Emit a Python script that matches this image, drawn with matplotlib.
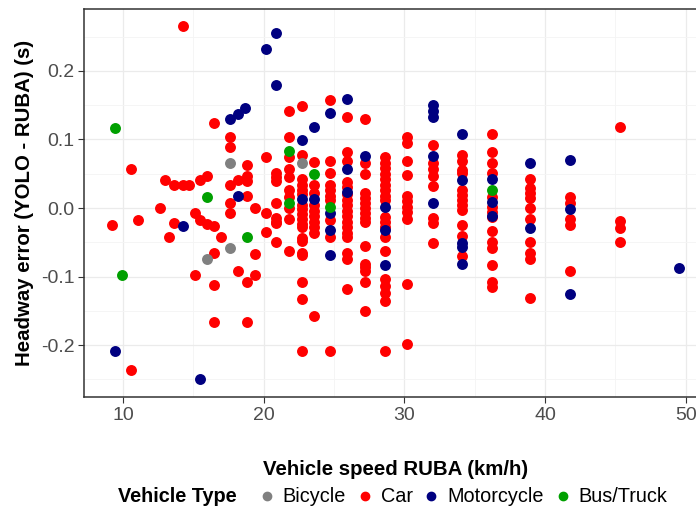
import matplotlib
matplotlib.use("Agg")
import matplotlib.pyplot as plt
from matplotlib.lines import Line2D

plt.rcParams['font.family'] = ['Liberation Sans', 'DejaVu Sans']

# car points, grouped by speed column: (speed, [errors])
car_columns = [
    (9.2, [-0.025]),
    (10.6, [0.057, -0.237]),
    (11.1, [-0.018]),
    (12.6, [0.0]),
    (13.0, [0.041]),
    (13.3, [-0.042]),
    (13.6, [0.034, -0.022]),
    (14.3, [0.266, 0.034]),
    (14.7, [0.034]),
    (15.1, [-0.008, -0.098]),
    (15.5, [0.041, -0.018]),
    (16.0, [0.047, -0.023]),
    (16.5, [0.124, -0.027, -0.066, -0.112, -0.166]),
    (17.0, [-0.042]),
    (17.6, [0.103, 0.089, 0.034, 0.007, -0.007]),
    (18.2, [0.041, -0.092]),
    (18.8, [0.063, 0.047, 0.039, 0.018, -0.108, -0.166]),
    (19.4, [0.0, -0.067, -0.098]),
    (20.2, [0.075, -0.008, -0.035]),
    (20.9, [0.051, 0.045, 0.039, 0.007, -0.015, -0.020, -0.022, -0.050]),
    (21.8, [0.142, 0.104, 0.074, 0.057, 0.045, 0.026, 0.016, 0.0, -0.016, -0.063]),
    (22.7, [0.149, 0.077, 0.042, 0.034, 0.027, 0.020, 0.005, -0.002, -0.009, -0.016,
            -0.023, -0.028, -0.044, -0.048, -0.066, -0.069, -0.108, -0.133, -0.209]),
    (23.6, [0.067, 0.034, 0.022, 0.004, -0.004, -0.012, -0.020, -0.028, -0.036, -0.158]),
    (24.7, [0.158, 0.069, 0.051, 0.034, 0.026, 0.018, 0.012, -0.018, -0.042, -0.209]),
    (25.9, [0.133, 0.082, 0.069, 0.038, 0.030, 0.020, 0.012, 0.004, -0.004, -0.012,
            -0.020, -0.028, -0.036, -0.042, -0.066, -0.074, -0.118]),
    (27.2, [0.130, 0.066, 0.050, 0.022, 0.015, 0.007, 0.0, -0.007, -0.014, -0.020,
            -0.055, -0.082, -0.086, -0.092, -0.108, -0.150]),
    (28.6, [0.074, 0.066, 0.058, 0.050, 0.042, 0.034, 0.026, 0.018, 0.012, -0.013,
            -0.020, -0.028, -0.042, -0.063, -0.104, -0.114, -0.124, -0.136, -0.209]),
    (30.2, [0.104, 0.095, 0.069, 0.048, 0.018, 0.010, 0.002, -0.006, -0.016, -0.111, -0.199]),
    (32.0, [0.092, 0.066, 0.057, 0.047, 0.032, -0.015, -0.022, -0.051]),
    (34.1, [0.077, 0.069, 0.055, 0.051, 0.026, 0.019, 0.012, 0.004, -0.003, -0.025,
            -0.041, -0.070]),
    (36.2, [0.108, 0.082, 0.066, 0.051, 0.016, 0.001, -0.006, -0.013, -0.034, -0.050,
            -0.058, -0.083, -0.108, -0.115]),
    (38.9, [0.042, 0.029, 0.022, 0.015, 0.0, -0.016, -0.050, -0.066, -0.074, -0.131]),
    (41.8, [0.016, 0.007, -0.016, -0.025, -0.092]),
    (45.3, [0.118, -0.019, -0.029, -0.050]),
]

moto_speed = [9.4, 14.3, 15.5, 17.6, 18.2, 18.7, 18.2, 20.2, 20.9, 20.9, 22.7, 22.7,
              23.6, 23.6, 24.7, 24.7, 24.7, 24.7, 25.9, 25.9, 25.9, 27.2, 28.6, 28.6,
              28.6, 32.0, 32.0, 32.0, 32.0, 32.0, 34.1, 34.1, 34.1, 34.1, 34.1, 36.2,
              36.2, 36.2, 38.9, 38.9, 41.8, 41.8, 41.8, 49.5]
moto_err = [-0.209, -0.027, -0.250, 0.130, 0.137, 0.146, 0.018, 0.232, 0.256, 0.180, 0.099, 0.013,
            0.118, 0.013, 0.138, -0.007, -0.032, -0.069, 0.159, 0.057, 0.024, 0.076, 0.001, -0.032,
            -0.083, 0.150, 0.142, 0.133, 0.076, 0.007, 0.108, 0.041, -0.051, -0.057, -0.082, 0.042,
            0.009, -0.012, 0.066, -0.029, 0.070, -0.001, -0.126, -0.088]

bus_speed = [9.4, 9.9, 16.0, 18.8, 21.8, 21.8, 23.6, 24.7, 36.2]
bus_err = [0.117, -0.098, 0.016, -0.042, 0.083, 0.008, 0.049, 0.001, 0.026]

bike_speed = [16.0, 17.6, 17.6, 22.7]
bike_err = [-0.074, 0.066, -0.058, 0.066]

types = ['Bicycle', 'Car', 'Motorcycle', 'Bus/Truck']
colors = {'Bicycle': 'grey', 'Car': '#FF0000', 'Motorcycle': '#000080', 'Bus/Truck': '#00A000'}

car_speed = [s for s, errs in car_columns for e in errs]
car_err = [e for s, errs in car_columns for e in errs]

fig = plt.figure(figsize=(6.96, 5.08), dpi=100)
ax = fig.add_axes([84/696, 1-397/508, (707-84)/696, (397-9)/508])

ax.scatter(car_speed, car_err, s=62, color=colors['Car'], linewidths=0, zorder=3)
ax.scatter(moto_speed, moto_err, s=62, color=colors['Motorcycle'], linewidths=0, zorder=3)
ax.scatter(bike_speed, bike_err, s=62, color=colors['Bicycle'], linewidths=0, zorder=3)
ax.scatter(bus_speed, bus_err, s=62, color=colors['Bus/Truck'], linewidths=0, zorder=3)

ax.set_xlim(7.23, 51.51)
ax.set_ylim(-0.2759, 0.2905)
ax.set_xticks([10, 20, 30, 40, 50])
ax.set_xticks([15, 25, 35, 45], minor=True)
ax.set_yticks([-0.2, -0.1, 0.0, 0.1, 0.2])
ax.set_yticks([-0.25, -0.15, -0.05, 0.05, 0.15, 0.25], minor=True)
ax.set_yticklabels(['-0.2', '-0.1', '0.0', '0.1', '0.2'])
ax.grid(which='major', color='#EBEBEB', linewidth=0.9, zorder=0)
ax.grid(which='minor', color='#F4F4F4', linewidth=0.6, zorder=0)
ax.set_axisbelow(True)
for sp in ax.spines.values():
    sp.set_color('#333333')
    sp.set_linewidth(1.1)
ax.tick_params(which='major', length=4, color='#333333', labelsize=14, labelcolor='#4D4D4D', pad=3)
ax.tick_params(which='minor', length=0)

ax.set_xlabel('Vehicle speed RUBA (km/h)', fontsize=14.7, fontweight='bold', labelpad=26)
ax.set_ylabel('Headway error (YOLO - RUBA) (s)', fontsize=14.7, fontweight='bold', labelpad=5)

fig.text(118/696, 1-496/508, 'Vehicle Type', fontsize=14.3, fontweight='bold', va='center', ha='left')
handles = [Line2D([], [], marker='o', linestyle='', markersize=6, color=colors[t]) for t in types]
fig.legend(handles, types, loc='center', bbox_to_anchor=(462/696, 1-497/508), ncol=4,
           frameon=False, fontsize=14.3, handletextpad=0.3, columnspacing=0.45, handlelength=1.0,
           borderpad=0, borderaxespad=0)

fig.savefig('out.png', dpi=100)
